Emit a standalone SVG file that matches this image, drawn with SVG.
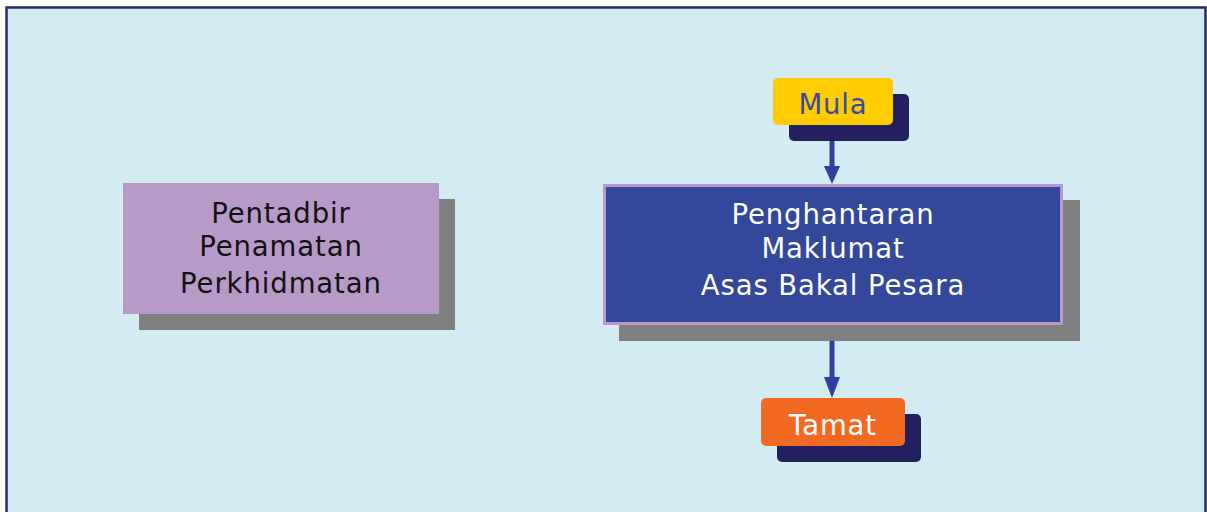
<svg xmlns="http://www.w3.org/2000/svg" width="1207" height="512" viewBox="0 0 1207 512">
  <defs>
    <style>
      .lbl { font-family: "DejaVu Sans", "Liberation Sans", sans-serif; font-size: 27.5px; letter-spacing: 0.9px; text-anchor: middle; }
      .shadow-dark { fill: #232060; }
      .shadow-grey { fill: #808080; }
      .conn { stroke: #2e3f9e; stroke-width: 5; fill: none; }
      .head { fill: #2e3f9e; }
    </style>
  </defs>

  <!-- page background and frame -->
  <rect x="0" y="0" width="1207" height="512" fill="#ffffff"/>
  <rect x="6.5" y="7.5" width="1199" height="520" fill="#d3ecf3" stroke="#2a2a6a" stroke-width="2.5"/>

  <!-- connectors -->
  <g id="connectors">
    <line class="conn" x1="832" y1="141" x2="832" y2="168"/>
    <polygon class="head" points="824,166 840,166 832,184"/>
    <line class="conn" x1="832" y1="341" x2="832" y2="380"/>
    <polygon class="head" points="824,377 840,377 832,398"/>
  </g>

  <!-- side role box -->
  <g id="node-pentadbir">
    <rect class="shadow-grey" x="139" y="199" width="316" height="131"/>
    <rect x="123" y="183" width="316" height="131" fill="#b89ac9"/>
    <text class="lbl" x="281" y="223" fill="#111111">Pentadbir</text>
    <text class="lbl" x="281" y="256" fill="#111111">Penamatan</text>
    <text class="lbl" x="281" y="293" fill="#111111">Perkhidmatan</text>
  </g>

  <!-- start -->
  <g id="node-mula">
    <rect class="shadow-dark" x="789" y="94" width="120" height="47" rx="5"/>
    <rect x="773" y="78" width="120" height="47" rx="5" fill="#ffcc00"/>
    <text class="lbl" x="833" y="114" fill="#3a4aa0">Mula</text>
  </g>

  <!-- process -->
  <g id="node-penghantaran">
    <rect class="shadow-grey" x="619" y="200" width="461" height="141"/>
    <rect x="604.5" y="185.5" width="457" height="138" fill="#33479b" stroke="#b89ac9" stroke-width="3"/>
    <text class="lbl" x="833" y="224" fill="#ffffff">Penghantaran</text>
    <text class="lbl" x="833" y="258" fill="#ffffff">Maklumat</text>
    <text class="lbl" x="833" y="295" fill="#ffffff">Asas Bakal Pesara</text>
  </g>

  <!-- end -->
  <g id="node-tamat">
    <rect class="shadow-dark" x="777" y="414" width="144" height="48" rx="5"/>
    <rect x="761" y="398" width="144" height="48" rx="5" fill="#f26a22"/>
    <text class="lbl" x="833" y="435" fill="#ffffff">Tamat</text>
  </g>
</svg>
